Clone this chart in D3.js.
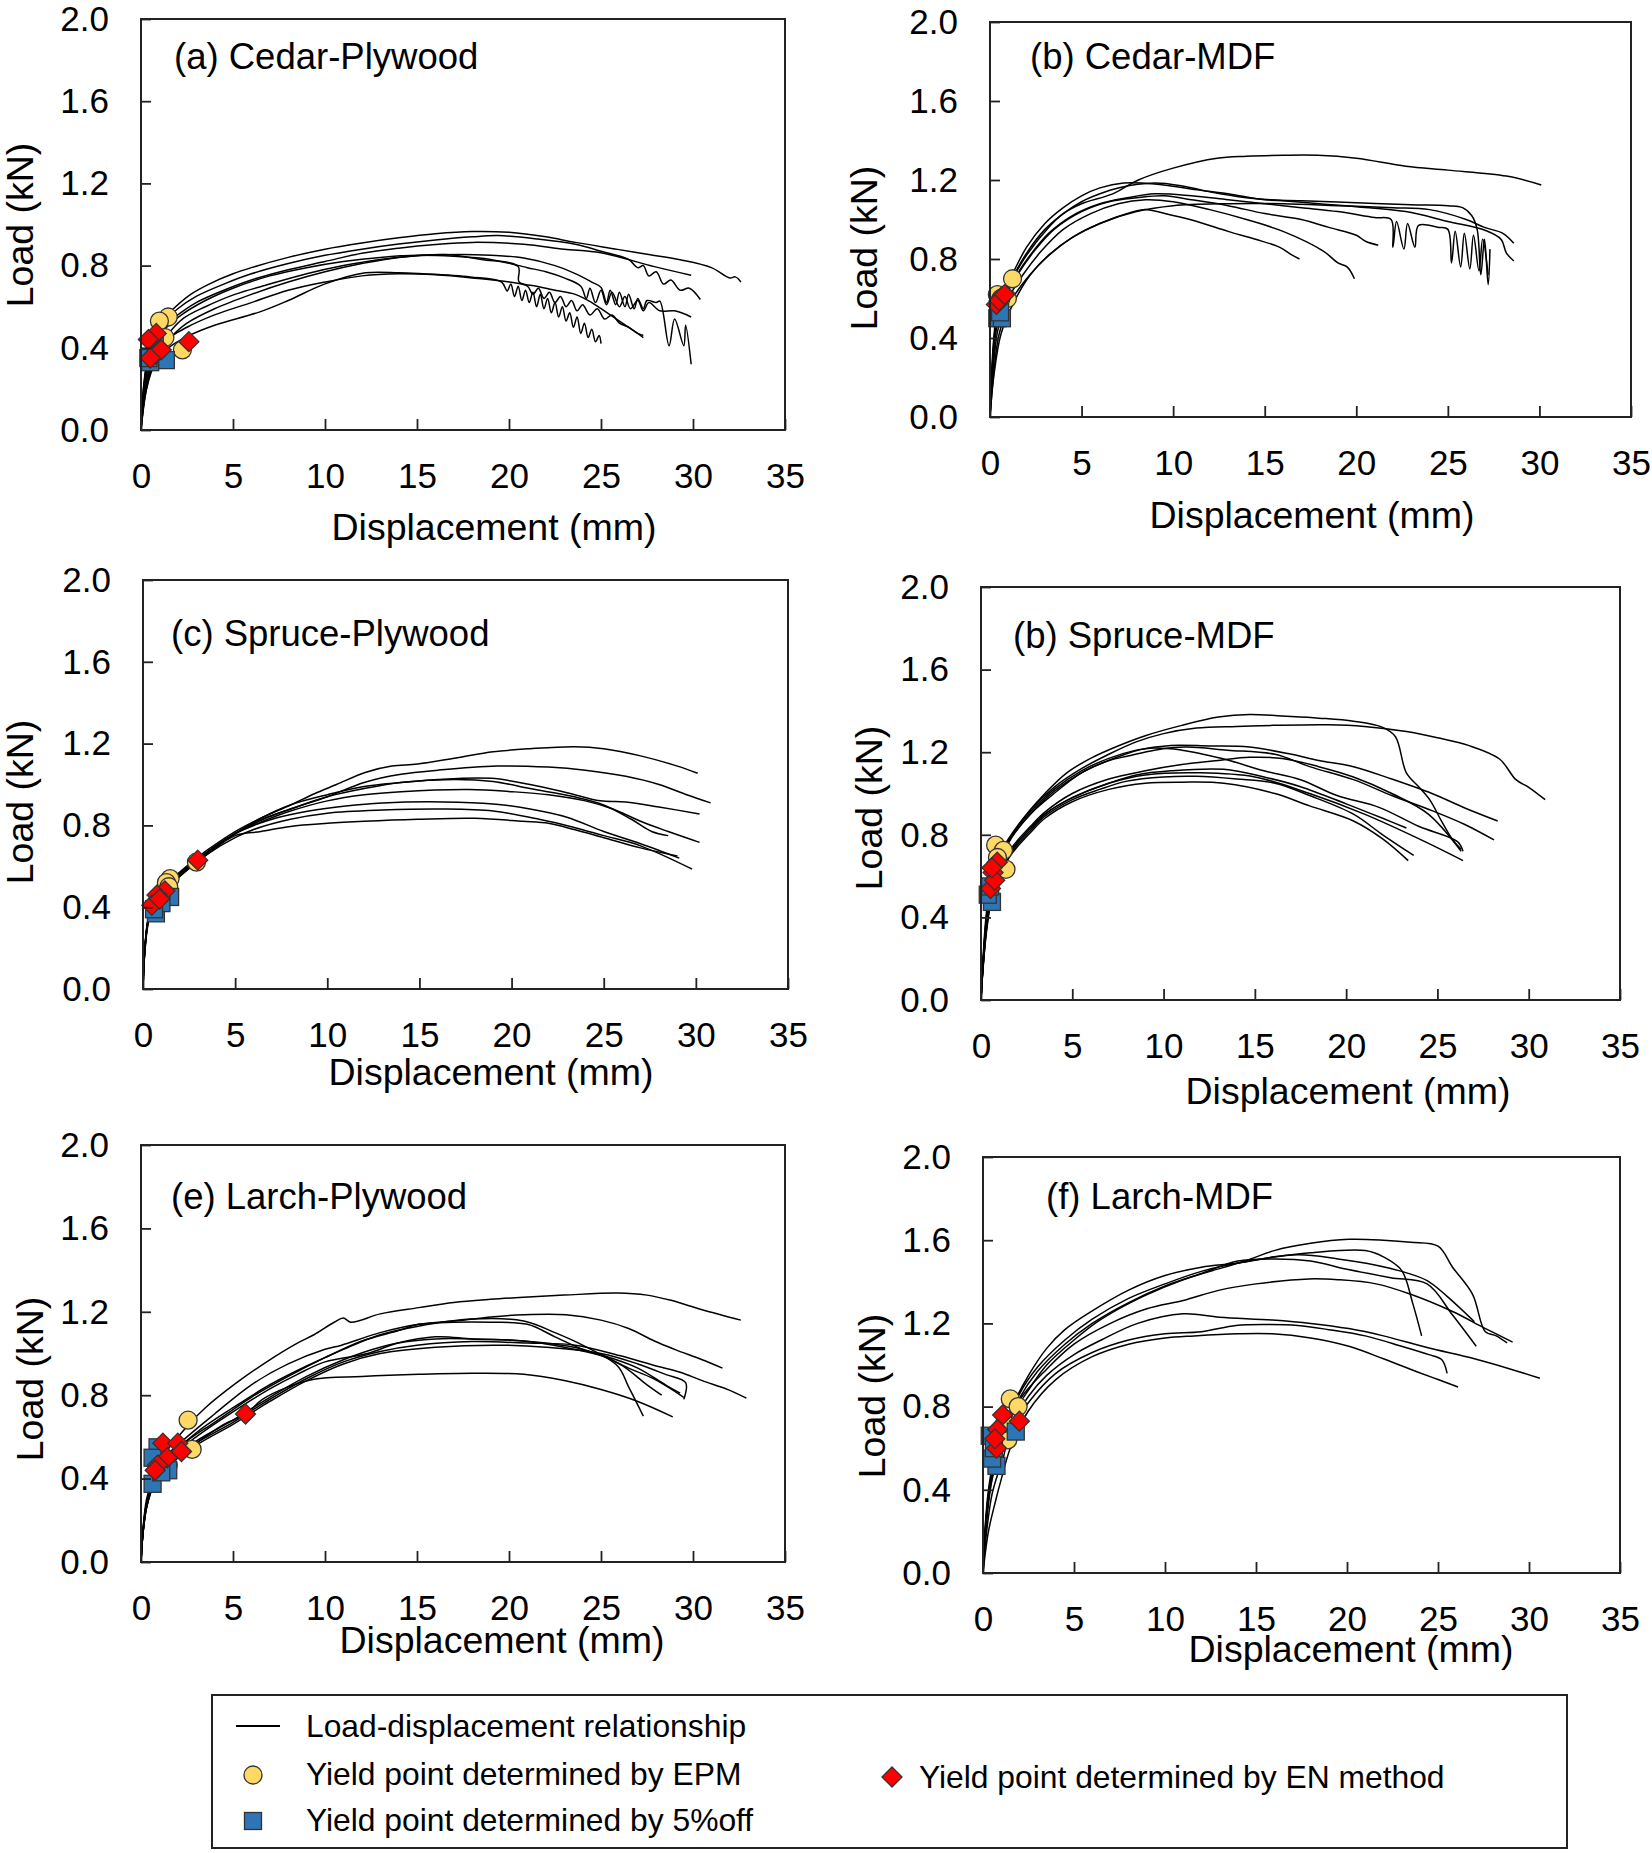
<!DOCTYPE html>
<html><head><meta charset="utf-8">
<script src="https://cdn.jsdelivr.net/npm/d3@7"></script>
<style>
html,body{margin:0;padding:0;background:#fff;}
svg{display:block;font-family:"Liberation Sans",Arial,sans-serif;}
</style></head>
<body>
<svg id="chart" width="1652" height="1853"></svg>
<script>
// ---------------- DATA ----------------
const xTicks = [0, 5, 10, 15, 20, 25, 30, 35];
const yTicks = [0.0, 0.4, 0.8, 1.2, 1.6, 2.0];
const panelTitles = ["(a) Cedar-Plywood", "(b) Cedar-MDF", "(c) Spruce-Plywood", "(b) Spruce-MDF", "(e) Larch-Plywood", "(f) Larch-MDF"];
const xLabel = "Displacement (mm)";
const yLabel = "Load (kN)";
const legendLabels = ["Load-displacement relationship", "Yield point determined by EPM", "Yield point determined by 5%off", "Yield point determined by EN method"];

// (a) Cedar-Plywood
const cedarPlywoodCurves = [
  [[0,0],[0.15,0.22],[0.5,0.42],[1,0.52],[1.7,0.585],[2.7,0.66],[3.7,0.71],[5,0.76],[6,0.79],[8,0.84],[10,0.88],[12,0.91],[14,0.935],[16,0.955],[18,0.966],[20,0.962],[22,0.94],[23.6,0.913],[25.9,0.879],[27.5,0.855],[29.3,0.828],[31,0.79],[32,0.74],[32.3,0.745],[32.6,0.72]],
  [[0,0],[0.2,0.25],[0.6,0.43],[1.2,0.52],[2,0.59],[3,0.65],[4.5,0.71],[6,0.76],[8,0.81],[10,0.85],[12,0.88],[14,0.905],[16,0.925],[18,0.94],[19.4,0.946],[21.5,0.93],[23.6,0.904],[25,0.87],[26.5,0.83],[27,0.79],[27.3,0.8],[27.6,0.75],[28,0.77],[28.4,0.71],[28.8,0.73],[29.3,0.68],[29.8,0.69],[30.4,0.635]],
  [[0,0],[0.2,0.23],[0.6,0.4],[1.2,0.5],[2,0.56],[3,0.62],[4.5,0.68],[6,0.73],[8,0.78],[10,0.82],[12,0.86],[14,0.885],[16,0.903],[18,0.913],[20.8,0.904],[23,0.88],[25,0.862],[27.9,0.795],[29.9,0.753]],
  [[0,0],[0.3,0.22],[0.8,0.38],[1.5,0.47],[2.3,0.543],[3.5,0.6],[5.1,0.66],[7,0.71],[9,0.76],[11,0.8],[13,0.83],[15,0.848],[17.4,0.854],[19,0.85],[20.8,0.837],[22.5,0.8],[23.6,0.761],[24.5,0.72],[25,0.694],[25.3,0.62],[25.5,0.68],[25.8,0.61],[26,0.67],[26.3,0.6],[26.5,0.66],[26.8,0.59],[27,0.64],[27.3,0.59],[27.5,0.63],[28,0.62],[28.2,0.627],[28.7,0.41],[29,0.54],[29.5,0.41],[29.6,0.51],[29.9,0.32]],
  [[0,0],[0.3,0.2],[0.8,0.36],[1.6,0.45],[2.5,0.52],[4,0.59],[6,0.66],[8,0.72],[10,0.77],[12,0.81],[14,0.84],[16.5,0.854],[18.5,0.83],[20.5,0.795],[20.55,0.72],[21.5,0.7],[22.5,0.68],[23.6,0.66],[24.5,0.62],[25.5,0.56],[26.5,0.5],[27.3,0.45]],
  [[0,0],[0.3,0.2],[0.8,0.33],[1.5,0.4],[2.6,0.459],[4,0.51],[6.5,0.576],[8,0.63],[10,0.711],[12.2,0.765],[14,0.765],[15.1,0.761],[17.9,0.745],[19.6,0.72],[19.9,0.677],[20.1,0.71],[20.3,0.65],[20.5,0.7],[20.7,0.63],[20.9,0.68],[21.1,0.62],[21.3,0.67],[21.5,0.6],[21.7,0.66],[21.9,0.59],[22.1,0.64],[22.3,0.57],[22.5,0.62],[22.7,0.55],[22.9,0.6],[23.1,0.53],[23.3,0.57],[23.5,0.5],[23.7,0.55],[23.9,0.47],[24.1,0.52],[24.3,0.45],[24.5,0.49],[24.7,0.43],[24.9,0.46],[25,0.42]],
  [[0,0],[0.25,0.22],[0.7,0.36],[1.4,0.44],[2.5,0.5],[4,0.56],[6,0.62],[8,0.68],[10,0.72],[12,0.75],[14,0.76],[16,0.755],[18,0.74],[20,0.72],[21,0.7],[21.3,0.66],[21.6,0.69],[21.9,0.64],[22.2,0.67],[22.5,0.62],[22.8,0.65],[23.1,0.6],[23.4,0.63],[23.7,0.58],[24,0.61],[24.4,0.56],[24.8,0.59],[25.2,0.54],[25.6,0.56],[26,0.52],[26.5,0.5],[27,0.47],[27.3,0.46]],
  [[0,0],[0.25,0.24],[0.7,0.4],[1.3,0.49],[2.2,0.56],[3.5,0.63],[5,0.69],[7,0.75],[9,0.79],[11,0.82],[13,0.84],[15,0.85],[17,0.845],[19,0.83],[21,0.79],[22,0.77],[23,0.74],[23.9,0.7],[24.2,0.64],[24.4,0.69],[24.7,0.62],[25,0.68],[25.3,0.61],[25.6,0.67],[26,0.6],[26.3,0.65],[26.6,0.59],[27,0.63],[27.3,0.58],[27.6,0.62],[28.2,0.58],[29,0.58],[29.9,0.55]]
];
const cedarPlywoodEPM = [[1.48,0.55],[1.0,0.53],[2.25,0.39],[1.3,0.45]];
const cedarPlywoodOffset = [[1.35,0.34],[0.5,0.33],[0.75,0.41],[0.4,0.35]];
const cedarPlywoodEN = [[0.83,0.47],[2.6,0.43],[0.77,0.37],[0.4,0.44],[1.1,0.39],[0.5,0.35]];

// (b) Cedar-MDF
const cedarMdfCurves = [
  [[0,0],[0.1,0.2],[0.3,0.45],[0.7,0.6],[1.23,0.7],[2,0.82],[3.2,0.96],[4,1.03],[5,1.08],[6.7,1.13],[8.1,1.2],[10,1.26],[12.4,1.31],[14,1.32],[16,1.325],[17.9,1.325],[20,1.31],[22.7,1.27],[25,1.25],[28.2,1.22],[30.1,1.175]],
  [[0,0],[0.1,0.25],[0.3,0.48],[0.6,0.6],[1,0.68],[2,0.86],[3,0.98],[4,1.06],[5,1.12],[6,1.16],[7.3,1.185],[9,1.18],[11.3,1.15],[13,1.13],[15,1.1],[17,1.095],[20,1.085],[23,1.075],[25,1.07],[25.8,1.06],[26.3,1.02],[26.6,0.95],[26.8,0.72],[27,0.9],[27.2,0.67],[27.3,0.85]],
  [[0,0],[0.1,0.22],[0.3,0.45],[0.7,0.6],[1.2,0.7],[2,0.83],[3,0.95],[4,1.03],[5,1.09],[6,1.13],[7,1.16],[9,1.185],[10.5,1.17],[12,1.14],[14,1.11],[16,1.095],[18,1.08],[20,1.065],[22.7,1.04],[25,0.99],[27.1,0.943],[27.9,0.9],[28.2,0.83],[28.6,0.79]],
  [[0,0],[0.1,0.2],[0.35,0.45],[0.8,0.6],[1.4,0.71],[2.2,0.82],[3.2,0.93],[4.5,1.02],[6,1.08],[7.5,1.11],[9,1.13],[11,1.12],[13,1.1],[15,1.08],[17,1.06],[19,1.04],[21,1.01],[21.9,1.0],[22,0.86],[22.2,0.99],[22.6,0.85],[22.8,0.98],[23.2,0.86],[23.4,0.97],[24.5,0.96],[25,0.95],[25.2,0.78],[25.4,0.94],[25.7,0.76],[25.9,0.93],[26.2,0.75],[26.4,0.92],[26.7,0.74],[26.9,0.9],[27.2,0.72]],
  [[0,0],[0.15,0.25],[0.4,0.48],[0.9,0.62],[1.5,0.72],[2.5,0.85],[3.5,0.95],[5,1.04],[6.5,1.09],[8,1.11],[9.5,1.12],[11,1.1],[13,1.07],[15,1.03],[17,1.0],[18.5,0.96],[20,0.92],[20.5,0.89],[21.2,0.87]],
  [[0,0],[0.15,0.22],[0.45,0.45],[1,0.6],[1.8,0.72],[2.8,0.84],[4,0.95],[5.5,1.03],[7,1.08],[8.5,1.1],[10,1.09],[12,1.05],[14,1.0],[16,0.94],[18.2,0.84],[19,0.78],[19.5,0.76],[19.9,0.7]],
  [[0,0],[0.2,0.22],[0.5,0.42],[1.1,0.58],[2,0.7],[3,0.8],[4.5,0.91],[6,0.98],[7.5,1.03],[8.4,1.05],[10,1.02],[11.3,0.99],[13,0.94],[14.5,0.9],[15.8,0.86],[16.5,0.82],[16.9,0.8]],
  [[0,0],[0.2,0.2],[0.6,0.42],[1.3,0.58],[2.2,0.72],[3.2,0.82],[4.5,0.91],[6,0.98],[8,1.04],[10,1.07],[13,1.08],[16,1.08],[19,1.07],[22,1.06],[24,1.05],[26,1.0],[27,0.96],[28,0.93],[28.6,0.88]]
];
const cedarMdfEPM = [[1.23,0.7],[0.4,0.62],[0.95,0.6],[0.6,0.6]];
const cedarMdfOffset = [[0.4,0.5],[0.65,0.5],[0.55,0.53]];
const cedarMdfEN = [[0.35,0.57],[0.66,0.61],[0.5,0.59],[0.8,0.62]];

// (c) Spruce-Plywood
const sprucePlywoodCurves = [
  [[0,0],[0.1,0.2],[0.3,0.35],[0.6,0.42],[1,0.47],[1.5,0.53],[2.5,0.61],[3.5,0.68],[5,0.77],[6.5,0.84],[8,0.9],[9.3,0.955],[10.5,1.0],[12.1,1.06],[13.5,1.09],[14.9,1.1],[17,1.13],[19,1.16],[21,1.175],[23.4,1.185],[25,1.175],[27,1.14],[29,1.09],[30.1,1.055]],
  [[0,0],[0.1,0.2],[0.3,0.35],[0.6,0.42],[1,0.47],[1.5,0.53],[2.5,0.6],[3.5,0.67],[5,0.76],[6.5,0.83],[8,0.88],[10,0.94],[12,1.01],[14,1.05],[16,1.07],[19.2,1.09],[22,1.085],[24,1.07],[26.2,1.04],[28,1.0],[29.5,0.95],[30.8,0.91]],
  [[0,0],[0.1,0.19],[0.3,0.34],[0.6,0.41],[1,0.46],[1.5,0.52],[2.5,0.6],[3.5,0.67],[5,0.76],[6.5,0.84],[8,0.9],[10,0.95],[12,0.99],[14,1.01],[16,1.025],[18.9,1.03],[21,1.0],[23,0.96],[24.8,0.92],[26.2,0.915],[28,0.89],[30.2,0.856]],
  [[0,0],[0.1,0.2],[0.3,0.35],[0.6,0.42],[1,0.47],[1.5,0.52],[2.5,0.6],[3.5,0.67],[5,0.76],[6.5,0.83],[8,0.88],[10,0.94],[12,0.98],[14,1.01],[16.9,1.025],[19,1.015],[21,0.98],[23.4,0.94],[25,0.9],[26.5,0.83],[27.6,0.77],[28.5,0.75]],
  [[0,0],[0.1,0.18],[0.3,0.33],[0.6,0.41],[1,0.46],[1.5,0.52],[2.5,0.6],[3.5,0.67],[5,0.76],[6.5,0.82],[8,0.87],[10,0.92],[12,0.95],[14,0.965],[17.7,0.975],[20,0.965],[22,0.95],[24,0.92],[25.5,0.88],[27,0.82],[28.5,0.77],[30.2,0.717]],
  [[0,0],[0.1,0.19],[0.3,0.34],[0.6,0.41],[1,0.46],[1.5,0.52],[2.5,0.6],[3.5,0.67],[5,0.76],[7,0.83],[9,0.87],[11,0.895],[13,0.91],[16.3,0.915],[19,0.905],[21,0.88],[23,0.84],[25,0.77],[27,0.71],[29.1,0.64]],
  [[0,0],[0.1,0.2],[0.3,0.34],[0.6,0.41],[1,0.46],[1.5,0.51],[2.5,0.59],[3.5,0.66],[5,0.74],[6,0.78],[8,0.83],[10,0.86],[13,0.875],[16.3,0.88],[19,0.87],[21.5,0.83],[23.4,0.79],[25,0.75],[27,0.7],[29.8,0.586]],
  [[0,0],[0.1,0.19],[0.3,0.34],[0.6,0.41],[1,0.46],[1.5,0.51],[2.5,0.59],[3.5,0.66],[5,0.75],[6.4,0.77],[8,0.795],[10,0.81],[12,0.82],[14.9,0.83],[18,0.835],[20.6,0.82],[22,0.81],[23.4,0.78],[25,0.74],[27,0.69],[29,0.65]]
];
const sprucePlywoodEPM = [[2.9,0.62],[1.47,0.54],[1.27,0.52],[1.4,0.5]];
const sprucePlywoodOffset = [[0.7,0.37],[1.47,0.45],[1.0,0.42],[0.6,0.39]];
const sprucePlywoodEN = [[2.97,0.63],[1.19,0.48],[0.76,0.46],[0.48,0.41],[0.9,0.44]];

// (d) Spruce-MDF
const spruceMdfCurves = [
  [[0,0],[0.1,0.18],[0.25,0.38],[0.5,0.56],[0.9,0.68],[1.5,0.78],[2.5,0.9],[3.5,1.0],[4.7,1.1],[6,1.17],[7.5,1.23],[9,1.28],[11,1.33],[13,1.37],[14.7,1.383],[16.5,1.375],[18.5,1.365],[20.4,1.35],[22,1.32],[22.7,1.275],[23.3,1.1],[24,1.03],[24.6,0.967],[25.2,0.87],[25.8,0.78],[26.3,0.73]],
  [[0,0],[0.1,0.17],[0.3,0.4],[0.6,0.58],[1,0.69],[1.7,0.8],[2.7,0.92],[4,1.03],[5.5,1.12],[7,1.19],[8.5,1.25],[10,1.29],[11.8,1.317],[14,1.325],[16,1.33],[19,1.333],[21,1.325],[23.3,1.3],[25,1.27],[26.7,1.233],[28.4,1.167],[29.3,1.067],[30,1.03],[30.9,0.97]],
  [[0,0],[0.1,0.16],[0.3,0.4],[0.6,0.57],[1,0.68],[1.7,0.8],[2.7,0.91],[4,1.02],[5.5,1.11],[7,1.17],[8.5,1.21],[10.4,1.233],[12.5,1.23],[14.7,1.225],[17,1.19],[18.5,1.16],[20.4,1.13],[22.5,1.07],[24.7,1.0],[26.5,0.93],[28.3,0.867]],
  [[0,0],[0.1,0.16],[0.3,0.38],[0.6,0.56],[1,0.67],[1.7,0.79],[2.7,0.9],[4,1.01],[5.5,1.1],[7,1.16],[8,1.18],[9.5,1.21],[11.2,1.225],[13.5,1.21],[16.1,1.19],[18,1.13],[20.4,1.067],[22.5,0.99],[24.7,0.917],[26.5,0.85],[28.1,0.775]],
  [[0,0],[0.1,0.16],[0.3,0.38],[0.6,0.56],[1,0.67],[1.7,0.79],[2.7,0.9],[4,1.0],[5.5,1.1],[7,1.16],[9,1.217],[11,1.21],[13.3,1.167],[15.5,1.11],[17.5,1.067],[19.5,0.99],[21.8,0.933],[24,0.84],[26.1,0.767],[26.4,0.72]],
  [[0,0],[0.1,0.15],[0.3,0.36],[0.6,0.53],[1,0.63],[1.7,0.74],[2.7,0.84],[3.5,0.91],[5,1.0],[7,1.07],[9,1.11],[11,1.14],[13,1.16],[14.7,1.175],[16.5,1.17],[18.5,1.13],[20.4,1.08],[22.5,1.0],[24.5,0.9],[26.3,0.72]],
  [[0,0],[0.1,0.15],[0.3,0.35],[0.6,0.52],[1,0.62],[1.7,0.73],[2.7,0.83],[3.5,0.9],[5,0.98],[7,1.05],[8.5,1.09],[10.4,1.11],[13.3,1.117],[15.5,1.08],[17.5,1.033],[20,0.95],[22,0.88],[23.3,0.833]],
  [[0,0],[0.1,0.14],[0.3,0.34],[0.6,0.51],[1,0.61],[1.7,0.72],[2.7,0.82],[3.5,0.89],[5,0.97],[6.5,1.02],[8,1.06],[10,1.08],[11.8,1.083],[14,1.07],[16.1,1.05],[18,0.99],[20.4,0.9],[22,0.8],[23.7,0.7]],
  [[0,0],[0.1,0.14],[0.3,0.33],[0.6,0.5],[1,0.6],[1.7,0.71],[2.7,0.81],[3.5,0.88],[5,0.96],[7,1.02],[9,1.05],[11,1.055],[13.3,1.05],[16.1,1.0],[18,0.94],[20.4,0.867],[22,0.78],[23.4,0.675]],
  [[0,0],[0.1,0.15],[0.3,0.35],[0.6,0.52],[1,0.62],[1.7,0.73],[2.7,0.83],[3.5,0.9],[5,0.98],[7,1.05],[9,1.09],[12,1.1],[15,1.08],[18,1.0],[21,0.9],[24,0.78],[26.4,0.675]]
];
const spruceMdfEPM = [[0.8,0.75],[1.23,0.725],[1.37,0.633],[0.9,0.69]];
const spruceMdfOffset = [[0.6,0.475],[0.37,0.51],[0.5,0.55]];
const spruceMdfEN = [[0.89,0.667],[0.66,0.617],[0.52,0.54],[0.75,0.58],[0.6,0.64]];

// (e) Larch-Plywood
const larchPlywoodCurves = [
  [[0,0],[0.1,0.15],[0.3,0.3],[0.7,0.42],[1.3,0.52],[2.6,0.66],[3.5,0.74],[5.2,0.86],[7,0.97],[8.5,1.05],[9.4,1.09],[10.5,1.15],[11,1.17],[11.4,1.15],[13,1.19],[15.1,1.22],[17,1.245],[19,1.26],[20.8,1.27],[23,1.28],[25.9,1.29],[27.5,1.28],[28.8,1.255],[30.5,1.21],[32.6,1.16]],
  [[0,0],[0.1,0.14],[0.3,0.28],[0.7,0.4],[1.3,0.5],[2.5,0.6],[4,0.71],[6,0.85],[8,0.95],[10,1.02],[10.9,1.04],[13,1.1],[15.1,1.14],[17.5,1.16],[19,1.175],[20.8,1.186],[23.1,1.186],[25,1.16],[26.5,1.12],[27.9,1.06],[29,1.02],[30.5,0.97],[31.6,0.93]],
  [[0,0],[0.1,0.14],[0.3,0.28],[0.7,0.4],[1.5,0.5],[3,0.62],[5,0.74],[7,0.85],[9,0.94],[11,1.02],[13,1.09],[15,1.13],[18,1.165],[20.8,1.156],[22.5,1.1],[24,1.04],[25.9,0.94],[26.5,0.84],[27.3,0.7]],
  [[0,0],[0.1,0.13],[0.3,0.27],[0.7,0.39],[1.2,0.47],[2.5,0.58],[4,0.67],[6,0.79],[8,0.89],[10,0.98],[12,1.06],[14,1.11],[15.1,1.14],[17,1.15],[19,1.15],[21,1.14],[22.5,1.08],[24,1.02],[25.5,0.98],[27,0.93],[28.5,0.85],[29.3,0.81]],
  [[0,0],[0.1,0.13],[0.3,0.27],[0.7,0.38],[1.5,0.48],[3,0.58],[5,0.68],[7,0.79],[9,0.89],[11,0.97],[13,1.03],[16,1.08],[18,1.07],[20.8,1.06],[23,1.03],[25,0.99],[26.5,0.93],[27.9,0.877],[29.5,0.79]],
  [[0,0],[0.1,0.13],[0.3,0.26],[0.7,0.38],[1.5,0.47],[3,0.57],[5,0.67],[7,0.78],[9,0.88],[11,0.96],[13,1.01],[15,1.04],[18,1.057],[21,1.05],[23.6,1.04],[26,0.99],[28,0.94],[29.3,0.91],[30.5,0.87],[31.9,0.827],[32.9,0.786]],
  [[0,0],[0.1,0.13],[0.3,0.26],[0.7,0.37],[1.5,0.46],[3,0.56],[5,0.66],[7,0.77],[9,0.87],[11,0.95],[13,1.0],[16,1.03],[19.4,1.04],[22,1.03],[25,1.0],[27,0.95],[28.5,0.9],[29.6,0.86],[29.5,0.78]],
  [[0,0],[0.1,0.13],[0.3,0.26],[0.7,0.37],[1.5,0.47],[3,0.57],[4.5,0.66],[5.7,0.71],[6.6,0.78],[8,0.84],[9.4,0.877],[12,0.89],[15.1,0.9],[18,0.905],[20.8,0.9],[23,0.87],[25,0.827],[27,0.77],[28.9,0.696]],
  [[0,0],[0.1,0.14],[0.3,0.28],[0.7,0.39],[1.5,0.49],[3,0.6],[5,0.72],[7,0.83],[8.5,0.9],[10,0.96],[12.3,1.0],[14,1.05],[16,1.07],[18,1.07],[20,1.065],[22,1.05],[24,1.02],[26,0.95],[27.5,0.85],[28.3,0.8]]
];
const larchPlywoodEPM = [[2.56,0.68],[2.78,0.54],[1.48,0.465]];
const larchPlywoodOffset = [[0.63,0.375],[1.48,0.44],[0.9,0.55],[0.63,0.5],[1.1,0.43]];
const larchPlywoodEN = [[1.19,0.57],[2.0,0.57],[2.2,0.53],[5.68,0.71],[1.42,0.5],[0.9,0.465],[0.77,0.44]];

// (f) Larch-MDF
const larchMdfCurves = [
  [[0,0],[0.1,0.15],[0.3,0.35],[0.6,0.5],[1,0.62],[1.5,0.74],[2.5,0.88],[3.5,1.0],[5,1.12],[6.5,1.22],[8.8,1.33],[11,1.41],[14.4,1.5],[16,1.55],[18,1.585],[20.1,1.604],[22,1.6],[23.5,1.59],[25,1.571],[25.8,1.47],[26.9,1.34],[27.6,1.16],[28.2,1.14],[28.8,1.106]],
  [[0,0],[0.1,0.2],[0.3,0.4],[0.6,0.55],[1,0.66],[1.5,0.78],[2.5,0.95],[3.5,1.08],[4.5,1.17],[6,1.26],[8,1.36],[10,1.43],[12,1.47],[14,1.49],[16,1.52],[18,1.54],[21,1.55],[22,1.52],[23,1.455],[23.6,1.3],[24.1,1.14]],
  [[0,0],[0.1,0.18],[0.3,0.38],[0.6,0.53],[1,0.64],[2,0.86],[3,0.99],[4.5,1.12],[6,1.22],[8,1.32],[10,1.39],[12,1.45],[14,1.49],[17.3,1.53],[19.5,1.51],[21.6,1.48],[23,1.45],[24.4,1.406],[25.5,1.33],[27,1.208]],
  [[0,0],[0.1,0.17],[0.3,0.37],[0.6,0.52],[1,0.63],[2,0.84],[3,0.97],[4.5,1.1],[6,1.2],[8,1.3],[10,1.38],[12,1.44],[14,1.5],[16,1.51],[18,1.5],[20,1.46],[22.4,1.42],[24.4,1.39],[25.8,1.24],[27.1,1.09]],
  [[0,0],[0.1,0.16],[0.3,0.36],[0.6,0.51],[1,0.62],[2,0.83],[3.5,0.98],[5,1.1],[7,1.2],[9,1.27],[11,1.31],[13,1.36],[15,1.39],[17.9,1.414],[19.5,1.41],[21.6,1.39],[23.5,1.34],[25.8,1.257],[27.5,1.18],[29.1,1.11]],
  [[0,0],[0.2,0.25],[0.5,0.45],[1,0.6],[1.6,0.72],[2.5,0.85],[3.5,0.95],[5,1.05],[6.5,1.12],[8.5,1.2],[11,1.246],[13,1.23],[15.9,1.216],[18,1.2],[20.1,1.175],[22,1.14],[24.4,1.084],[27,1.03],[29,0.98],[30.6,0.936]],
  [[0,0],[0.2,0.2],[0.5,0.38],[0.9,0.5],[1.1,0.55],[1.5,0.68],[2.5,0.82],[4,0.96],[6,1.06],[8,1.12],[10,1.15],[12,1.16],[13.9,1.19],[15.5,1.195],[17.3,1.19],[19,1.17],[21,1.14],[23,1.09],[24.5,1.05],[25.2,1.026],[25.5,0.96]],
  [[0,0],[0.3,0.2],[0.7,0.35],[1,0.45],[1.5,0.6],[2.5,0.78],[4,0.93],[6,1.04],[8,1.1],[10,1.13],[11.6,1.14],[14,1.15],[15.9,1.15],[18,1.13],[20.1,1.09],[22,1.03],[23.8,0.969],[25,0.93],[26.1,0.894]]
];
const larchMdfEPM = [[1.5,0.837],[1.93,0.8],[1.36,0.64],[1.2,0.72]];
const larchMdfOffset = [[1.8,0.68],[0.74,0.515],[0.5,0.55],[0.37,0.66],[0.6,0.6]];
const larchMdfEN = [[1.08,0.76],[0.8,0.69],[0.74,0.6],[2.0,0.73],[0.65,0.645]];

// ---------------- LAYOUT ----------------
const panels = [
  {title: panelTitles[0], curves: cedarPlywoodCurves, epm: cedarPlywoodEPM, off: cedarPlywoodOffset, en: cedarPlywoodEN,
   l:141, r:785, t:19, b:430, titleX:174, titleY:56, xlabX:494, xlabY:527, ylabX:20, ylabY:225},
  {title: panelTitles[1], curves: cedarMdfCurves, epm: cedarMdfEPM, off: cedarMdfOffset, en: cedarMdfEN,
   l:990, r:1631, t:22, b:417, titleX:1030, titleY:56, xlabX:1312, xlabY:515, ylabX:864, ylabY:248},
  {title: panelTitles[2], curves: sprucePlywoodCurves, epm: sprucePlywoodEPM, off: sprucePlywoodOffset, en: sprucePlywoodEN,
   l:143, r:788, t:580, b:989, titleX:171, titleY:633, xlabX:491, xlabY:1072, ylabX:20, ylabY:802},
  {title: panelTitles[3], curves: spruceMdfCurves, epm: spruceMdfEPM, off: spruceMdfOffset, en: spruceMdfEN,
   l:981, r:1620, t:587, b:1000, titleX:1013, titleY:635, xlabX:1348, xlabY:1091, ylabX:869, ylabY:808},
  {title: panelTitles[4], curves: larchPlywoodCurves, epm: larchPlywoodEPM, off: larchPlywoodOffset, en: larchPlywoodEN,
   l:141, r:785, t:1145, b:1562, titleX:171, titleY:1196, xlabX:502, xlabY:1640, ylabX:30, ylabY:1379},
  {title: panelTitles[5], curves: larchMdfCurves, epm: larchMdfEPM, off: larchMdfOffset, en: larchMdfEN,
   l:983, r:1620, t:1157, b:1573, titleX:1046, titleY:1196, xlabX:1351, xlabY:1649, ylabX:872, ylabY:1396}
];

const svg = d3.select("#chart");
const COL_EPM = "#FFD966", COL_OFF = "#2E75B6", COL_EN = "#FF0000", COL_STROKE = "#333";

function drawCircle(g, cx, cy) {
  g.append("circle").attr("cx", cx).attr("cy", cy).attr("r", 9)
    .attr("fill", COL_EPM).attr("stroke", COL_STROKE).attr("stroke-width", 1.3);
}
function drawSquare(g, cx, cy) {
  g.append("rect").attr("x", cx - 8.5).attr("y", cy - 8.5).attr("width", 17).attr("height", 17)
    .attr("fill", COL_OFF).attr("stroke", COL_STROKE).attr("stroke-width", 1.3);
}
function drawDiamond(g, cx, cy) {
  const s = 10;
  g.append("path").attr("d", `M${cx},${cy - s}L${cx + s},${cy}L${cx},${cy + s}L${cx - s},${cy}Z`)
    .attr("fill", COL_EN).attr("stroke", COL_STROKE).attr("stroke-width", 1.3);
}

panels.forEach(p => {
  const x = d3.scaleLinear().domain([0, 35]).range([p.l, p.r]);
  const y = d3.scaleLinear().domain([0, 2.0]).range([p.b, p.t]);
  const g = svg.append("g");

  const line = d3.line().x(d => x(d[0])).y(d => y(d[1])).curve(d3.curveCatmullRom.alpha(0.5));
  g.append("g").selectAll("path").data(p.curves).join("path")
    .attr("d", line).attr("fill", "none").attr("stroke", "#000").attr("stroke-width", 1.5)
    .attr("stroke-linejoin", "round");

  const mg = g.append("g");
  p.epm.forEach(d => drawCircle(mg, x(d[0]), y(d[1])));
  p.off.forEach(d => drawSquare(mg, x(d[0]), y(d[1])));
  p.en.forEach(d => drawDiamond(mg, x(d[0]), y(d[1])));

  const xa = g.append("g").attr("transform", `translate(0,${p.b})`)
    .call(d3.axisBottom(x).tickValues(xTicks).tickSize(-11).tickPadding(33).tickFormat(d3.format("d")));
  const ya = g.append("g").attr("transform", `translate(${p.l},0)`)
    .call(d3.axisLeft(y).tickValues(yTicks).tickSize(-10).tickPadding(32).tickFormat(d3.format(".1f")));
  [xa, ya].forEach(a => {
    a.select(".domain").remove();
    a.selectAll(".tick line").attr("stroke", "#222").attr("stroke-width", 1.8);
    a.selectAll(".tick text").attr("fill", "#000").attr("font-size", 35)
      .attr("font-family", '"Liberation Sans", Arial, sans-serif');
  });

  g.append("rect").attr("x", p.l).attr("y", p.t).attr("width", p.r - p.l).attr("height", p.b - p.t)
    .attr("fill", "none").attr("stroke", "#222").attr("stroke-width", 2);

  g.append("text").attr("x", p.titleX).attr("y", p.titleY).attr("dy", "0.35em")
    .attr("font-size", 36.5).attr("fill", "#000").text(p.title);
  g.append("text").attr("x", p.xlabX).attr("y", p.xlabY).attr("dy", "0.35em")
    .attr("text-anchor", "middle").attr("font-size", 37.5).attr("fill", "#000").text(xLabel);
  g.append("text").attr("transform", `translate(${p.ylabX},${p.ylabY}) rotate(-90)`).attr("dy", "0.35em")
    .attr("text-anchor", "middle").attr("font-size", 37.5).attr("fill", "#000").text(yLabel);
});

// ---------------- LEGEND ----------------
const lg = svg.append("g");
lg.append("rect").attr("x", 212).attr("y", 1695).attr("width", 1355).attr("height", 153)
  .attr("fill", "#fff").attr("stroke", "#222").attr("stroke-width", 2);
lg.append("line").attr("x1", 236).attr("x2", 280).attr("y1", 1726).attr("y2", 1726)
  .attr("stroke", "#000").attr("stroke-width", 2);
drawCircle(lg, 253, 1775);
drawSquare(lg, 253, 1821);
drawDiamond(lg, 892, 1777);
const legendPos = [[306, 1726], [306, 1774], [306, 1820], [919, 1777]];
legendLabels.forEach((t, i) => {
  lg.append("text").attr("x", legendPos[i][0]).attr("y", legendPos[i][1]).attr("dy", "0.35em")
    .attr("font-size", 31.8).attr("fill", "#000").text(t);
});
</script>
</body></html>
